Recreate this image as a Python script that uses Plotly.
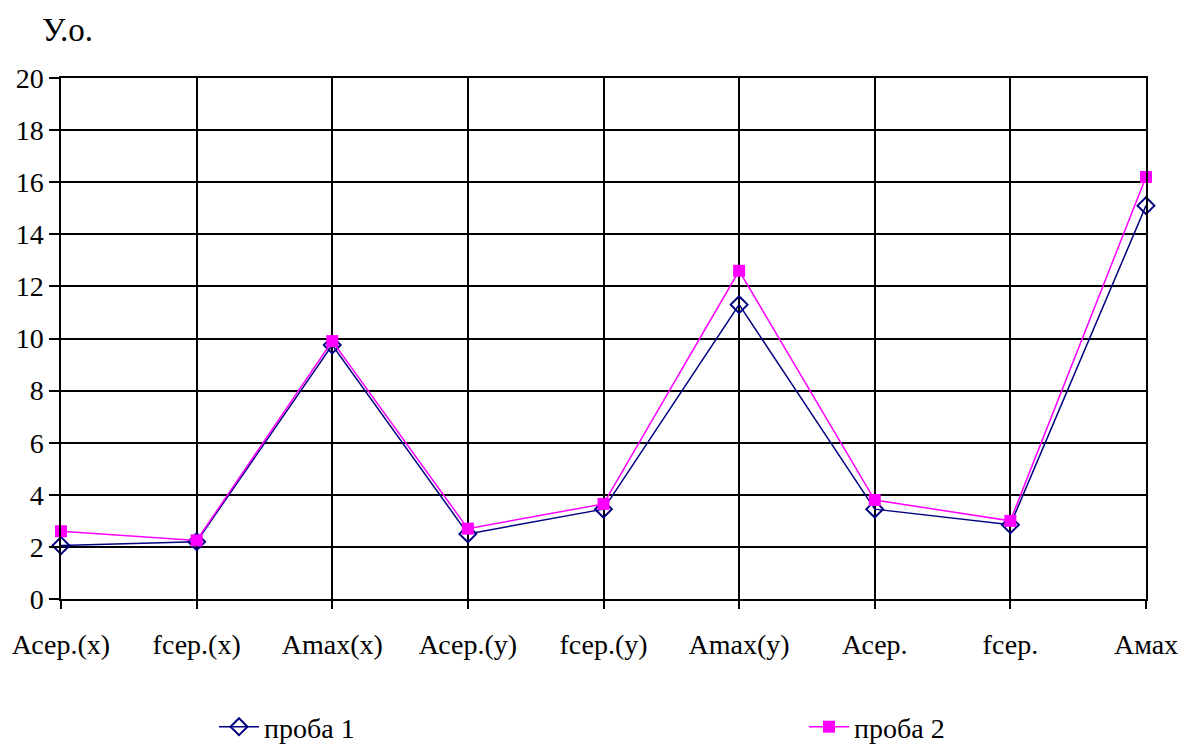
import plotly.graph_objects as go

categories = ["Асер.(х)", "fсер.(х)", "Amax(x)", "Асер.(у)", "fсер.(у)", "Amax(y)", "Асер.", "fсер.", "Амах"]
proba_1 = [2.05, 2.2, 9.75, 2.5, 3.45, 11.3, 3.45, 2.85, 15.1]
proba_2 = [2.6, 2.25, 9.9, 2.7, 3.65, 12.6, 3.8, 3.0, 16.2]
y_ticks = [0, 2, 4, 6, 8, 10, 12, 14, 16, 18, 20]

FONT = "Liberation Serif, Times New Roman, serif"
FSIZE = 28

# plot area in pixels
L, R, T, B = 60, 37, 78, 145
W, H = 1190, 744
PW, PH = W - L - R, H - T - B

fig = go.Figure()
fig.add_trace(go.Scatter(
    x=categories, y=proba_1, name="проба 1", mode="lines+markers",
    line=dict(color="#000080", width=1.5),
    marker=dict(symbol="diamond-open", size=13, color="#000080", line=dict(width=2, color="#000080")),
    cliponaxis=False, legend="legend",
))
fig.add_trace(go.Scatter(
    x=categories, y=proba_2, name="проба 2", mode="lines+markers",
    line=dict(color="#FF00FF", width=1.5),
    marker=dict(symbol="square", size=12, color="#FF00FF"),
    cliponaxis=False, legend="legend2",
))

legend_style = dict(
    orientation="h", xref="container", yref="container",
    xanchor="left", yanchor="middle", y=1 - 727 / H,
    itemwidth=40,
    font=dict(family=FONT, size=FSIZE, color="black"),
    bgcolor="rgba(0,0,0,0)", itemclick=False, itemdoubleclick=False,
)

fig.update_layout(
    width=W, height=H,
    margin=dict(l=L, r=R, t=T, b=B),
    paper_bgcolor="white", plot_bgcolor="white",
    font=dict(family=FONT, size=FSIZE, color="black"),
    showlegend=True,
    legend=dict(legend_style, x=214 / W),
    legend2=dict(legend_style, x=804 / W),
    annotations=[dict(
        text="У.о.", xref="paper", yref="paper",
        x=(39 - L) / PW, y=(H - B - 30) / PH, showarrow=False,
        xanchor="left", yanchor="middle", font=dict(family=FONT, size=33, color="black"),
    )],
)

fig.update_xaxes(
    type="category", range=[0, len(categories) - 1],
    showgrid=True, gridcolor="black", gridwidth=1.5,
    showline=True, linecolor="black", linewidth=1.5, mirror=True,
    ticks="outside", ticklen=8, tickwidth=1.5, tickcolor="black",
    ticklabelstandoff=12,
    tickfont=dict(family=FONT, size=FSIZE, color="black"),
    zeroline=False,
)
fig.update_yaxes(
    range=[0, 20], tickvals=y_ticks,
    showgrid=True, gridcolor="black", gridwidth=1.5,
    showline=True, linecolor="black", linewidth=1.5, mirror=True,
    ticks="outside", ticklen=10, tickwidth=1.5, tickcolor="black",
    tickfont=dict(family=FONT, size=FSIZE, color="black"),
    zeroline=False,
)

fig.write_html("out.html")
